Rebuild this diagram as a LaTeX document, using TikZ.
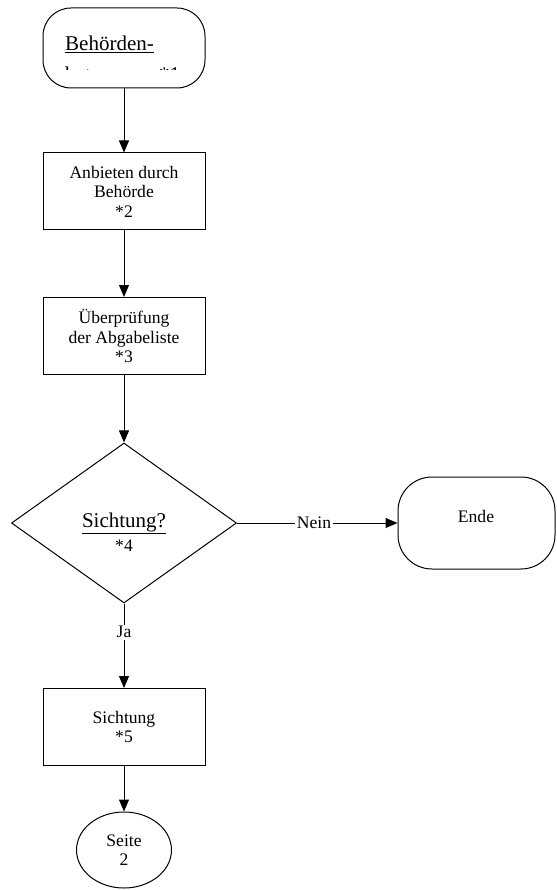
\documentclass[tikz,border=0pt]{standalone}
\usepackage{fontspec}
\setmainfont{Liberation Serif}
\usetikzlibrary{positioning,arrows.meta,shapes.geometric}

\tikzset{
  flow/.style={draw, line width=1pt, rectangle, minimum width=162pt, minimum height=77pt,
    align=center, inner sep=0pt, font=\fontsize{17.6}{19.5}\selectfont},
  term/.style={draw, line width=1pt, rectangle, inner sep=0pt},
  txt/.style={font=\fontsize{17.6}{19.5}\selectfont, align=center, inner sep=0pt},
  bigtxt/.style={font=\fontsize{21}{23}\selectfont, align=center, inner sep=0pt},
  arr/.style={line width=1pt, -{Triangle[length=12pt,width=10pt]}},
}

\begin{document}
\begin{tikzpicture}[x=1pt,y=-1pt]
    \useasboundingbox (0,0) rectangle (556,890);
    % start terminal
    \node[term, minimum width=162pt, minimum height=80pt, rounded corners=28pt] (start) at (124,48) {};
    \node[bigtxt, anchor=base west] (starttxt) at (65,51) {\underline{Behörden-}};
    \begin{scope}
        \clip (44,66) rectangle (204,69.5);
        \node[bigtxt, anchor=base west] (startrest) at (65,82) {betreuung\hspace{10pt}*1};
    \end{scope}
    % steps
    \node[flow] (angebot) at (124,191.5) {Anbieten durch\\Behörde\\*2};
    \node[flow] (pruefung) at (124,336) {Überprüfung\\der Abgabeliste\\*3};
    \node[draw, diamond, line width=1pt, minimum width=225pt, minimum height=160pt, inner sep=0pt] (frage) at (124,523) {};
    \node[bigtxt] (fragetxt) at (124,523) {\underline{Sichtung?}};
    \node[txt] (fragenr) at (124,546) {*4};
    \node[term, minimum width=157pt, minimum height=92pt, rounded corners=34pt] (ende) at (476.5,523) {};
    \node[txt] (endetxt) at (476,516) {Ende};
    \node[flow] (sichtung) at (124,727) {Sichtung\\*5};
    \node[draw, ellipse, line width=1pt, minimum width=95pt, minimum height=76pt, inner sep=0pt, txt] (seite) at (124,850) {Seite\\2};
    % connectors
    \draw[arr] (start) -- (angebot);
    \draw[arr] (angebot) -- (pruefung);
    \draw[arr] (pruefung) -- (frage);
    \draw[arr] (frage.east) -- node[txt, fill=white, inner sep=2pt, pos=0.48] {Nein} (ende);
    \draw[arr] (frage.south) -- node[txt, fill=white, inner sep=1.5pt, pos=0.34] {Ja} (sichtung);
    \draw[arr] (sichtung) -- (seite);
\end{tikzpicture}
\end{document}
